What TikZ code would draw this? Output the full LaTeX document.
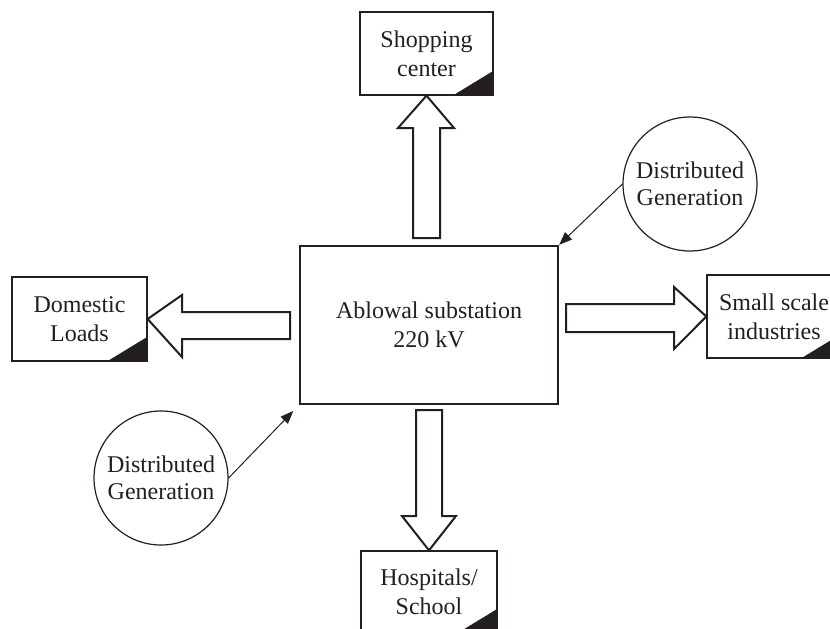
\documentclass[tikz,border=0pt]{standalone}
\usepackage{fontspec}
\setmainfont{Liberation Serif}
\usetikzlibrary{calc,arrows.meta}
\definecolor{ink}{HTML}{231F20}
\tikzset{
  txt/.style={font=\fontsize{24}{29}\selectfont, align=center, text=ink},
  loadbox/.style={txt, draw=ink, line width=1.3pt, inner sep=0pt},
  mainbox/.style={txt, draw=ink, line width=2.4pt, inner sep=0pt, minimum width=258pt, minimum height=158pt},
  dgcircle/.style={txt, draw=ink, line width=1.2pt, circle, inner sep=0pt, minimum size=134pt, font=\fontsize{24}{27}\selectfont},
  blockarrow/.style={draw=ink, line width=2pt, fill=white, line join=miter},
  thinarrow/.style={draw=ink, line width=1pt, -{Triangle[length=13pt,width=10pt]}},
  corner/.style={fill=ink}
}
\begin{document}
\begin{tikzpicture}[x=1pt,y=-1pt]
\useasboundingbox (0,0) rectangle (830,629);
\clip (0,0) rectangle (830,629);
\fill[white] (0,0) rectangle (830,629);

% main substation
\node[mainbox] (main) at (429,325) {Ablowal substation\\220 kV};

% load boxes
\node[loadbox, minimum width=133pt, minimum height=83pt] (shop) at (426.5,53.5) {Shopping\\center};
\node[loadbox, minimum width=135pt, minimum height=84pt] (dom) at (79.5,319) {Domestic\\Loads};
\node[loadbox, minimum width=134pt, minimum height=83pt] (ind) at (774,316.5) {Small scale\\industries};
\node[loadbox, minimum width=136pt, minimum height=82pt] (hosp) at (429,592) {Hospitals/\\School};

% dark corner triangles
\foreach \b in {shop,dom,ind,hosp}{
  \fill[corner] ($(\b.south east)+(-41,0)$) -- (\b.south east) -- ($(\b.south east)+(0,-25)$) -- cycle;
}

% block arrows
% up
\draw[blockarrow] (413,238) -- (413,128) -- (398,128) -- (shop.south) -- (454,128) -- (440,128) -- (440,238) -- cycle;
% down
\draw[blockarrow] (416,410) -- (416,516) -- (402,516) -- (hosp.north) -- (456,516) -- (442,516) -- (442,410) -- cycle;
% left
\draw[blockarrow] (290,312) -- (182,312) -- (182,295) -- (dom.east) -- (182,357) -- (182,339) -- (290,339) -- cycle;
% right
\draw[blockarrow] (566,304) -- (674,304) -- (674,287) -- (ind.west) -- (674,349) -- (674,332) -- (566,332) -- cycle;

% distributed generation
\node[dgcircle] (dg1) at (690,184) {Distributed\\Generation};
\node[dgcircle] (dg2) at (161,478) {Distributed\\Generation};

\draw[thinarrow] (dg1.west) -- (main.north east);
\draw[thinarrow, shorten >=8pt] (dg2.east) -- (main.south west);
\end{tikzpicture}
\end{document}
